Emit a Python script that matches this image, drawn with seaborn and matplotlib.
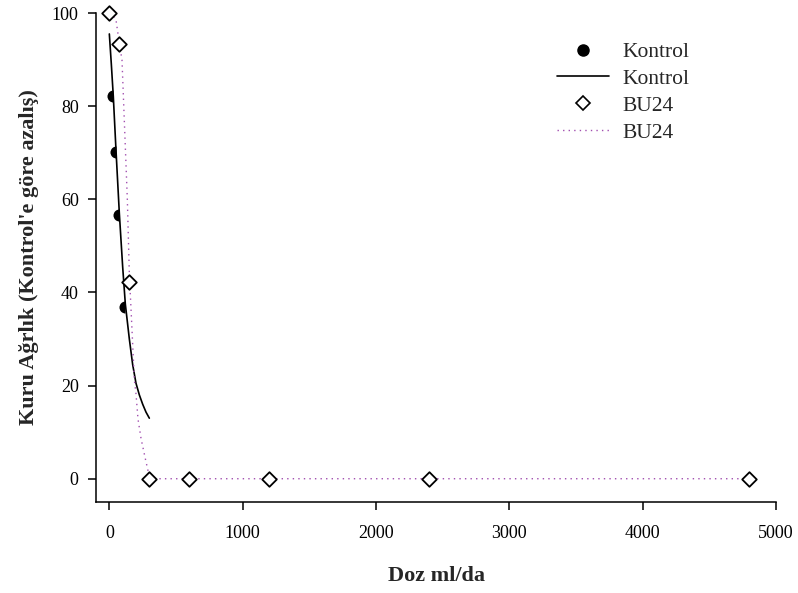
import matplotlib
matplotlib.use("Agg")
import matplotlib.pyplot as plt
from matplotlib.lines import Line2D
from matplotlib.markers import MarkerStyle
import seaborn as sns

# ---- data ----
kontrol_dose = [30, 50, 75, 120]
kontrol_val = [82.2, 70.2, 56.7, 36.8]
kontrol_fit_dose = [0, 15, 30, 50, 75, 100, 120, 150, 175, 200, 225, 250, 275, 300]
kontrol_fit_val = [95.5, 89, 82, 70.5, 57, 45.5, 37.5, 30, 24.5, 20.5, 18, 16, 14.3, 13]

bu24_dose = [0, 75, 150, 300, 600, 1200, 2400, 4800]
bu24_val = [100, 93.4, 42.2, 0, 0, 0, 0, 0]
bu24_fit_dose = [0, 25, 50, 75, 95, 115, 135, 150, 170, 187, 200, 215, 238, 270, 295, 345, 400, 600, 1200, 2400, 4800]
bu24_fit_val = [100, 99.5, 98.5, 93.5, 89.9, 74.9, 60, 44, 32, 21.4, 18.2, 12.8, 8.6, 4.3, 1.1, 0, 0, 0, 0, 0, 0]

x_ticks = [0, 1000, 2000, 3000, 4000, 5000]
y_ticks = [0, 20, 40, 60, 80, 100]

sns.set_style("white")
plt.rcParams['font.family'] = ['Liberation Serif', 'DejaVu Serif']

fig = plt.figure(figsize=(7.98, 5.93), dpi=100)
ax = fig.add_axes([96 / 798, 1 - 502 / 593, (776 - 96) / 798, (502 - 13) / 593])

purple = '#a24fb0'
dots = (0, (1, 3))

# fitted curves
sns.lineplot(x=kontrol_fit_dose, y=kontrol_fit_val, ax=ax, color='black', lw=1.2,
             sort=False, estimator=None, legend=False)
sns.lineplot(x=bu24_fit_dose, y=bu24_fit_val, ax=ax, color=purple, lw=1.0,
             sort=False, estimator=None, legend=False, linestyle=dots)

# observed points
half = MarkerStyle('o', fillstyle='left')
ax.scatter(kontrol_dose, kontrol_val, marker=half, s=75, color='black', linewidths=0, zorder=3)
sns.scatterplot(x=bu24_dose, y=bu24_val, ax=ax, marker='D', s=55, facecolor='white',
                edgecolor='black', linewidth=1.3, zorder=4, clip_on=False, legend=False)

ax.set_xlim(-100, 5000)
ax.set_ylim(-5, 100)
ax.set_xticks(x_ticks)
ax.set_yticks(y_ticks)
ax.tick_params(axis='both', which='major', direction='out', length=6, width=1.1,
               labelsize=13, color='black', labelcolor='black', bottom=True, left=True,
               pad=6.5)
ax.tick_params(axis='x', pad=10.5)
for s in ['top', 'right']:
    ax.spines[s].set_visible(False)
for s in ['left', 'bottom']:
    ax.spines[s].set_color('black')
    ax.spines[s].set_linewidth(1.1)

ax.set_xlabel('Doz ml/da', fontsize=16, fontweight='bold', labelpad=17)
ax.set_ylabel("Kuru Ağrlık (Kontrol'e göre azalış)", fontsize=16, fontweight='bold', labelpad=9.5)

handles = [
    Line2D([], [], marker='o', color='black', linestyle='none', markersize=8),
    Line2D([], [], color='black', lw=1.2),
    Line2D([], [], marker='D', markerfacecolor='white', markeredgecolor='black',
           markeredgewidth=1.2, linestyle='none', markersize=7),
    Line2D([], [], color=purple, lw=1.0, linestyle=dots),
]
labels = ['Kontrol', 'Kontrol', 'BU24', 'BU24']
ax.legend(handles, labels, loc='upper left', bbox_to_anchor=(557 / 798, 1 - 42 / 593),
          bbox_transform=fig.transFigure, frameon=False, fontsize=15.5, borderpad=0,
          borderaxespad=0, handlelength=2.42, handletextpad=0.6, labelspacing=0.32)

fig.savefig('out.png', dpi=100)
